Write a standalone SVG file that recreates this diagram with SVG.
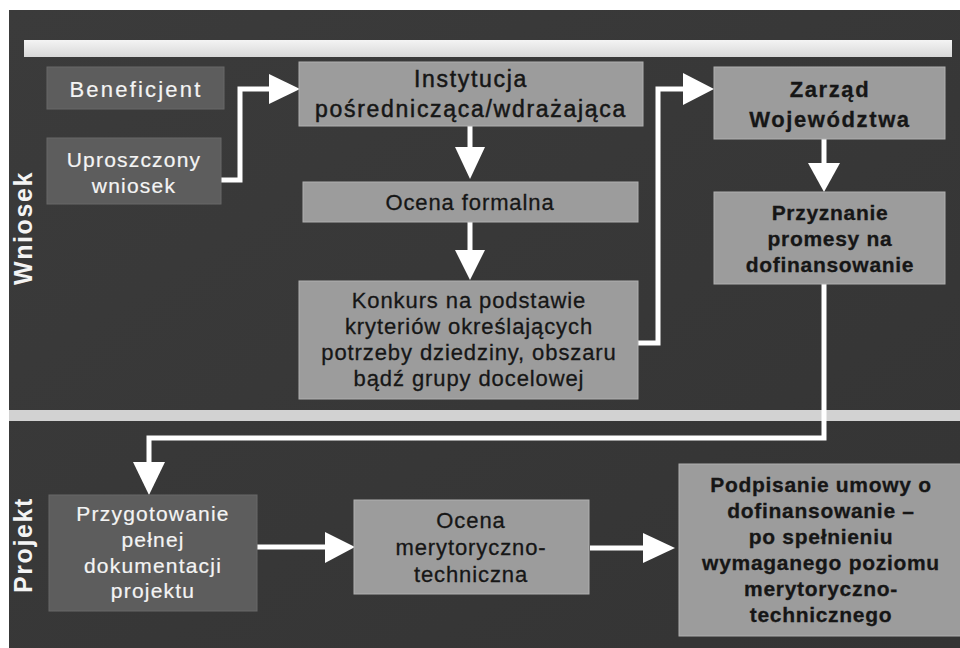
<svg xmlns="http://www.w3.org/2000/svg" width="960" height="648" viewBox="0 0 960 648">
<defs>
<linearGradient id="bg" x1="0" y1="0" x2="1" y2="1">
<stop offset="0" stop-color="#3b3b3b"/>
<stop offset="1" stop-color="#343434"/>
</linearGradient>
<linearGradient id="bar" x1="0" y1="0" x2="0" y2="1">
<stop offset="0" stop-color="#f4f4f4"/>
<stop offset="1" stop-color="#d8d8d8"/>
</linearGradient>
<style>
.lt{fill:#9c9c9c;stroke:#b0b0b0;stroke-width:1}
.dk{fill:#5d5d5d;stroke:#686868;stroke-width:1}
.tb{font-family:"Liberation Sans",Arial,sans-serif;font-size:22px;fill:#161616;stroke:#161616;stroke-width:0.3px;text-anchor:middle;letter-spacing:0.9px}
.tw{font-family:"Liberation Sans",Arial,sans-serif;font-size:21px;fill:#f4f4f4;stroke:#f4f4f4;stroke-width:0.2px;text-anchor:middle;letter-spacing:1.2px}
.bold{font-weight:bold;font-size:21px;letter-spacing:0.7px}
.lbl{font-family:"Liberation Sans",Arial,sans-serif;font-size:25px;font-weight:bold;fill:#f4f4f4;text-anchor:middle;letter-spacing:1.6px}
.con{fill:none;stroke:#ffffff;stroke-width:5;stroke-linejoin:miter}
.ah{fill:#ffffff}
</style>
</defs>
<rect x="0" y="0" width="960" height="648" fill="#ffffff"/>
<rect x="9" y="10" width="951" height="638" fill="url(#bg)"/>
<rect x="24" y="40" width="928" height="17" fill="url(#bar)"/>
<rect x="9" y="410" width="951" height="11" fill="#d2d2d2"/>

<text class="lbl" transform="translate(32,228) rotate(-90)">Wniosek</text>
<text class="lbl" transform="translate(32,545) rotate(-90)">Projekt</text>

<g id="connectors">
<polyline class="con" points="221,180 240,180 240,89 271,89"/>
<polygon class="ah" points="269,74 300,89 269,104"/>
<line class="con" x1="470" y1="126" x2="470" y2="149"/>
<polygon class="ah" points="455,147 485,147 470,179"/>
<line class="con" x1="470" y1="222" x2="470" y2="252"/>
<polygon class="ah" points="455,250 485,250 470,280"/>
<polyline class="con" points="638,343 658,343 658,89 685,89"/>
<polygon class="ah" points="683,73 714,89 683,105"/>
<line class="con" x1="824" y1="139" x2="824" y2="165"/>
<polygon class="ah" points="808,163 840,163 824,192"/>
<polyline class="con" points="824,284 824,438 149,438 149,464"/>
<polygon class="ah" points="133,462 165,462 149,495"/>
<line class="con" x1="257" y1="547" x2="327" y2="547"/>
<polygon class="ah" points="325,532 355,547 325,563"/>
<line class="con" x1="590" y1="548" x2="645" y2="548"/>
<polygon class="ah" points="643,533 675,548 643,563"/>
</g>

<g id="beneficjent">
<rect class="dk" x="47" y="67" width="177" height="42"/>
<text class="tw" x="136" y="97" style="font-size:22px;letter-spacing:2.2px">Beneficjent</text>
</g>
<g id="uproszczony">
<rect class="dk" x="47" y="138" width="174" height="66"/>
<text class="tw" x="134" y="167">Uproszczony</text>
<text class="tw" x="134" y="193">wniosek</text>
</g>
<g id="instytucja">
<rect class="lt" x="299" y="62" width="344" height="64"/>
<text class="tb" x="471" y="87" style="font-size:23px;letter-spacing:1.7px;stroke-width:0.5px">Instytucja</text>
<text class="tb" x="471" y="117" style="font-size:23px;letter-spacing:1.7px;stroke-width:0.5px">pośrednicząca/wdrażająca</text>
</g>
<g id="ocena-formalna">
<rect class="lt" x="303" y="182" width="335" height="40"/>
<text class="tb" x="470" y="210">Ocena formalna</text>
</g>
<g id="konkurs">
<rect class="lt" x="299" y="281" width="339" height="118"/>
<text class="tb" x="469" y="308">Konkurs na podstawie</text>
<text class="tb" x="469" y="334">kryteriów określających</text>
<text class="tb" x="469" y="360">potrzeby dziedziny, obszaru</text>
<text class="tb" x="469" y="386">bądź grupy docelowej</text>
</g>
<g id="zarzad">
<rect class="lt" x="714" y="67" width="231" height="72"/>
<text class="tb bold" x="830" y="97" style="font-size:22px;letter-spacing:1.6px">Zarząd</text>
<text class="tb bold" x="830" y="127" style="font-size:22px;letter-spacing:1.6px">Województwa</text>
</g>
<g id="przyznanie">
<rect class="lt" x="714" y="192" width="231" height="92"/>
<text class="tb bold" x="830" y="220">Przyznanie</text>
<text class="tb bold" x="830" y="246">promesy na</text>
<text class="tb bold" x="830" y="272">dofinansowanie</text>
</g>
<g id="przygotowanie">
<rect class="dk" x="49" y="495" width="208" height="116"/>
<text class="tw" x="153" y="521">Przygotowanie</text>
<text class="tw" x="153" y="547">pełnej</text>
<text class="tw" x="153" y="573">dokumentacji</text>
<text class="tw" x="153" y="598">projektu</text>
</g>
<g id="ocena-merytoryczno">
<rect class="lt" x="354" y="500" width="235" height="94"/>
<text class="tb" x="471" y="528">Ocena</text>
<text class="tb" x="471" y="555">merytoryczno-</text>
<text class="tb" x="471" y="582">techniczna</text>
</g>
<g id="podpisanie">
<rect class="lt" x="679" y="464" width="290" height="172"/>
<text class="tb bold" x="821" y="492">Podpisanie umowy o</text>
<text class="tb bold" x="821" y="518">dofinansowanie –</text>
<text class="tb bold" x="821" y="544">po spełnieniu</text>
<text class="tb bold" x="821" y="570">wymaganego poziomu</text>
<text class="tb bold" x="821" y="596">merytoryczno-</text>
<text class="tb bold" x="821" y="622">technicznego</text>
</g>
</svg>
